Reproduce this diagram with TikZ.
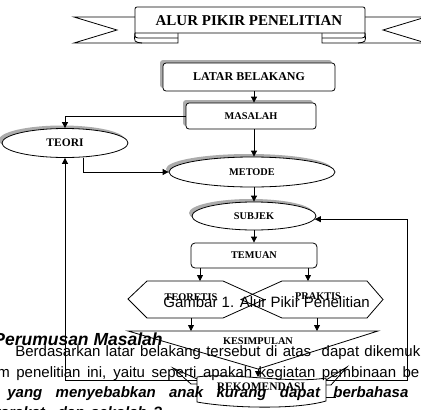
\documentclass[tikz,border=0pt]{standalone}
\usepackage{fontspec}
\setmainfont{Liberation Serif}
\newfontfamily\arialf{Liberation Sans}
\usetikzlibrary{arrows.meta,shadows,shapes.geometric}
\begin{document}
\begin{tikzpicture}[x=1pt,y=-1pt,line width=0.8pt,
  arr/.style={-{Triangle[length=6pt,width=6pt]}},
  lbl/.style={font=\bfseries\fontsize{10.3}{12}\selectfont,inner sep=0},
  shd/.style={drop shadow={shadow xshift=-3pt,shadow yshift=3pt,fill=gray!65,opacity=1}},
  shbox/.style={draw,fill=white,rounded corners=3pt,inner sep=0,shd},
  shell/.style={draw,ellipse,fill=white,inner sep=0,shd},
  body/.style={font=\arialf\fontsize{15}{18}\selectfont,inner sep=0,anchor=base west},
  bodybi/.style={font=\arialf\bfseries\itshape\fontsize{15}{18}\selectfont,inner sep=0,anchor=base west}]
\useasboundingbox (0,0) rectangle (421,410);
\fill[white] (0,0) rectangle (421,410);
\clip (0,0) rectangle (421,410);

% ---- banner
\draw (135,17) -- (74,17) -- (117,30) -- (74,43) -- (178,43) -- (178,33);
\draw (365,17) -- (426,17) -- (383,30) -- (426,43) -- (322,43) -- (322,33);
\draw[fill=white] (135,33) -- (135,9) to[out=90,in=180] (137,7) -- (363,7) to[out=0,in=90] (365,9) -- (365,33) -- cycle;
\draw (135,33) .. controls (135,38) .. (142,38) -- (178,38);
\draw (135,33) .. controls (134,42) .. (142,43);
\draw (365,33) .. controls (365,38) .. (358,38) -- (322,38);
\draw (365,33) .. controls (366,42) .. (358,43);
\node[font=\bfseries\fontsize{15}{18}\selectfont,inner sep=0] (title) at (249,21) {ALUR PIKIR PENELITIAN};

% ---- main nodes
\node[shbox,minimum width=172pt,minimum height=28pt,font=\bfseries\fontsize{12}{14}\selectfont] (latar) at (249,77) {LATAR BELAKANG};
\node[shbox,minimum width=130pt,minimum height=26pt,lbl] (masalah) at (251,116) {MASALAH};
\node[shell,minimum width=126pt,minimum height=29pt,font=\bfseries\fontsize{11.5}{13}\selectfont] (teori) at (65,143) {TEORI};
\node[shell,minimum width=166pt,minimum height=30pt,lbl] (metode) at (252,172) {METODE};
\node[shell,minimum width=124pt,minimum height=28pt,lbl] (subjek) at (254,216) {SUBJEK};
\node[draw,rounded corners=4pt,minimum width=126pt,minimum height=25pt,lbl] (temuan) at (254,255.5) {TEMUAN};

% ---- hexagons
\draw (128,299) -- (147,281) -- (223,281) -- (264,299.5) -- (223,318) -- (147,318) -- cycle;
\draw (241,299.5) -- (282,281) -- (367,281) -- (383,299.5) -- (367,318) -- (282,318) -- cycle;
\node[lbl] (teoretis) at (191,297) {TEORETIS};
\node[lbl] (praktis) at (318,296) {PRAKTIS};
\coordinate (tA) at (200,281);
\coordinate (tB) at (308,281);
\coordinate (bA) at (191,318);
\coordinate (bB) at (317,318);

% ---- kesimpulan
\coordinate (kesTop) at (258,331);
\coordinate (kesApex) at (258,369);
\draw (128,331) -- (378,331) -- (kesApex) -- cycle;
\node[lbl] (kesimpulan) at (258,341) {KESIMPULAN};

% ---- rekomendasi
\draw (197,377) .. controls (230,372) and (290,384) .. (326,378) -- (326,401) .. controls (295,410) and (230,408) .. (197,402) -- cycle;
\draw (197,379) -- (173,368) -- (191,384) -- (197,384);
\draw (326,380) -- (347,367) -- (331,385) -- (326,385);
\draw (326,397) -- (336,397);
\node[font=\bfseries\fontsize{11.5}{13}\selectfont,inner sep=0] (rek) at (261,387) {REKOMENDASI};
\coordinate (rekTop) at (258,377);
\coordinate (rekL) at (197,380);
\coordinate (rekR) at (326,380);
\coordinate (fbR) at (407,380);

% ---- connectors
\draw[arr] ([xshift=5pt]latar.south) -- ([xshift=3pt]masalah.north);
\draw[arr] ([xshift=3pt]masalah.south) -- ([xshift=2pt]metode.north);
\draw[arr] ([xshift=2pt]metode.south) -- (subjek.north);
\draw[arr] (subjek.south) -- (temuan.north);
\draw[arr] (masalah.west) -| (teori.north);
\draw[arr] ([xshift=18pt]teori.south) |- (metode.west);
\draw[arr] (temuan.south -| tA) -- (tA);
\draw[arr] (temuan.south -| tB) -- (tB);
\draw[arr] (bA) -- (bA |- kesTop);
\draw[arr] (bB) -- (bB |- kesTop);
\draw[arr] (kesApex) -- (rekTop);
\draw[arr] (rekL) -| (teori.south);
\draw[arr] (rekR) -- (fbR) |- (subjek.-3);

% ---- overlaid page text
\node[body] (cap) at (163,307) {Gambar 1. Alur Pikir Penelitian};
\node[font=\arialf\bfseries\itshape\fontsize{17.5}{20}\selectfont,inner sep=0,anchor=base east] (hd) at (163,345) {Perumusan Masalah};
\node[body] (l1) at (15,356) {\makebox[405pt][s]{Berdasarkan latar belakang tersebut di atas\ \ dapat dikemuk}};
\node[body] (l2) at (-3,377) {\makebox[422pt][s]{m penelitian ini, yaitu seperti apakah kegiatan pembinaan be}};
\node[bodybi] (l3) at (7,397) {\makebox[401pt][s]{yang menyebabkan anak kurang dapat berbahasa}};
\node[bodybi] (l4) at (-8,417) {\makebox[170pt][s]{yarakat\ \ dan sekolah ?}};
\end{tikzpicture}
\end{document}
